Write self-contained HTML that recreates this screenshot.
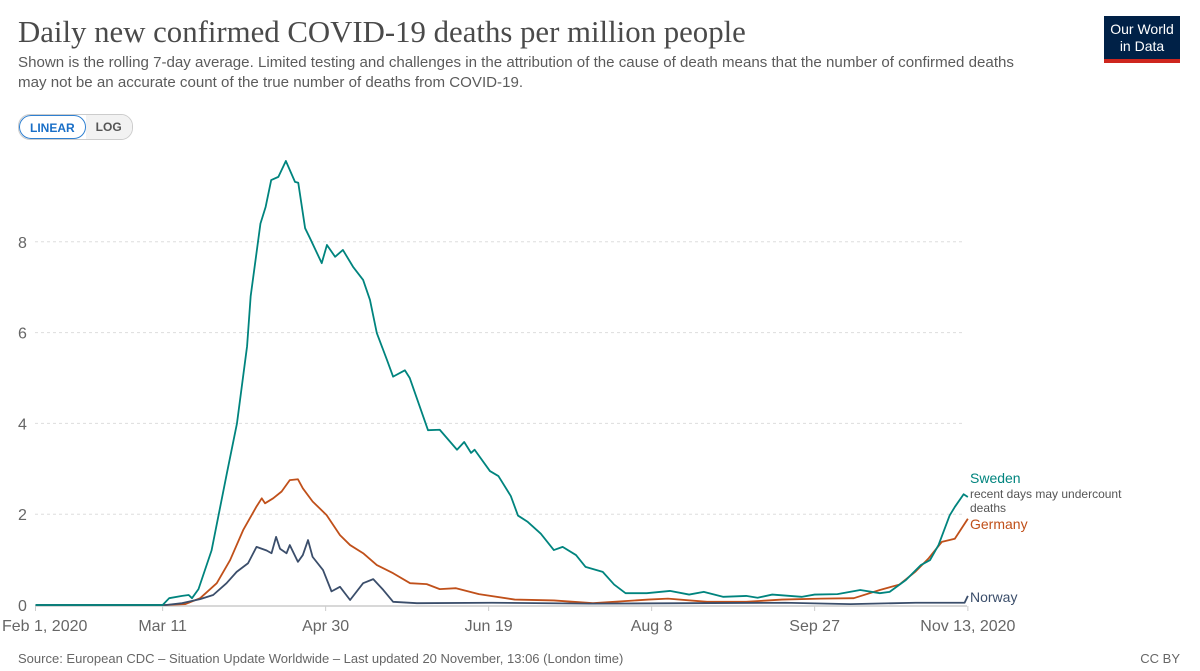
<!DOCTYPE html>
<html><head><meta charset="utf-8"><style>
body{margin:0;background:#fff;width:1200px;height:671px;overflow:hidden;font-family:"Liberation Sans",sans-serif;}
#title{position:absolute;left:18px;top:15px;font-family:"Liberation Serif",serif;font-size:30.8px;color:#4a4a4a;margin:0;font-weight:normal;}
#sub{position:absolute;left:18px;top:53px;width:1012px;font-size:15.1px;line-height:20px;color:#5b5b5b;}
#logo{position:absolute;left:1104px;top:16px;width:76px;height:47px;background:#002147;color:#fff;font-size:14px;line-height:17px;text-align:center;box-sizing:border-box;padding-top:5px;border-bottom:4px solid #ce261e;}
#toggle{position:absolute;left:18px;top:114px;height:24px;border:1px solid #ccc;border-radius:12px;display:flex;font-size:12px;font-weight:bold;overflow:hidden;}
#toggle div{padding:0 10px;line-height:24px;}
#lin{color:#1a6fc7;border:1px solid #2f80d1;border-radius:12px;background:#fff;}
#log{color:#555;background:#f2f2f2;}
#foot{position:absolute;left:18px;top:651px;font-size:13px;color:#666;}
#cc{position:absolute;right:20px;top:651px;font-size:13px;color:#666;}
svg{position:absolute;left:0;top:0;}
</style></head><body>
<h1 id="title">Daily new confirmed COVID-19 deaths per million people</h1>
<div id="sub">Shown is the rolling 7-day average. Limited testing and challenges in the attribution of the cause of death means that the number of confirmed deaths may not be an accurate count of the true number of deaths from COVID-19.</div>
<div id="logo">Our World<br>in Data</div>
<div id="toggle"><div id="lin">LINEAR</div><div id="log">LOG</div></div>
<svg id="chart" width="1200" height="671"></svg>
<div id="foot">Source: European CDC – Situation Update Worldwide – Last updated 20 November, 13:06 (London time)</div>
<div id="cc">CC BY</div>
<script>
const yTicks=[0,2,4,6,8];
const xTickDays=[0,39,89,139,189,239,286];
const xTickLabels=["Feb 1, 2020","Mar 11","Apr 30","Jun 19","Aug 8","Sep 27","Nov 13, 2020"];
const swedenDays=[0,39,41,45,47,48,50,54,58.7,61.8,64.9,66,69,70.6,72.3,74.5,76.8,79.6,80.6,82.7,84.2,87.8,89.4,91.9,94.3,97.4,100.5,102.6,104.7,107.8,109.7,113.3,114.8,120.4,124,129.3,131.5,133.6,134.7,139.4,142,145.8,148,151,155,159,161.7,165.8,168.7,174,177.5,181,187.5,194.6,200.5,205,211,218,221.5,226,235,239,246,253,259,262,267,271.6,274.4,277,280.4,282,284.7,286];
const swedenVals=[0,0,0.15,0.2,0.22,0.15,0.35,1.2,2.9,4.0,5.7,6.8,8.4,8.77,9.36,9.43,9.78,9.32,9.3,8.3,8.08,7.53,7.93,7.67,7.82,7.45,7.16,6.72,5.99,5.4,5.03,5.17,5.0,3.85,3.86,3.42,3.59,3.35,3.42,2.95,2.84,2.4,1.97,1.83,1.57,1.21,1.28,1.1,0.84,0.73,0.45,0.26,0.26,0.31,0.23,0.29,0.18,0.2,0.16,0.23,0.18,0.23,0.24,0.33,0.26,0.29,0.55,0.88,0.99,1.32,1.97,2.16,2.44,2.38];
const germanyDays=[0,40,46,50.5,55.6,59.7,63.7,67.8,69.4,70.4,72.9,75.5,78,80.5,82,85,89.3,93.4,96.5,100.5,104.7,109.7,114.9,120,124,129,136,147,159,171,188,194,206,218,229,241,251,259,265,270,274,278,282,286];
const germanyVals=[0,0,0.02,0.15,0.48,0.99,1.65,2.17,2.35,2.24,2.35,2.5,2.75,2.77,2.57,2.28,1.98,1.54,1.32,1.14,0.88,0.7,0.48,0.46,0.35,0.37,0.24,0.12,0.1,0.04,0.12,0.14,0.07,0.07,0.12,0.14,0.15,0.33,0.45,0.74,1.03,1.39,1.46,1.9];
const norwayDays=[0,40,45,50.5,54.5,58.6,61.7,65.2,67.8,70.9,72.4,73.8,75,77,78,80.5,82,83.6,85,88.2,90.8,93.4,96.5,100.5,103.6,106.7,109.7,117,140,170,200,230,250,270,285,286];
const norwayVals=[0,0,0.04,0.13,0.22,0.48,0.73,0.92,1.28,1.2,1.14,1.5,1.24,1.14,1.32,0.95,1.1,1.43,1.06,0.77,0.3,0.4,0.11,0.48,0.57,0.33,0.07,0.04,0.05,0.03,0.04,0.05,0.02,0.05,0.05,0.2];
const X0=35.5,PXD=3.26,Y0=605,PXU=45.4;
const xs=d=>X0+d*PXD, ys=v=>Y0-v*PXU;
const svg=document.getElementById('chart'),NS='http://www.w3.org/2000/svg';
function mk(t,a,txt){const e=document.createElementNS(NS,t);for(const k in a)e.setAttribute(k,a[k]);if(txt!=null)e.textContent=txt;svg.appendChild(e);return e;}
yTicks.forEach(v=>{
 if(v>0){const g=mk('line',{x1:35,x2:965,y1:ys(v),y2:ys(v),stroke:'#ddd','stroke-dasharray':'3,3'});
 
 }
 const t=mk('text',{x:18,y:ys(v)+6,'font-size':16,fill:'#666'},String(v));
 
 
});
const ax=mk('line',{x1:35,x2:967,y1:Y0+1,y2:Y0+1,stroke:'#ccc','stroke-width':1.5});


xTickDays.forEach((d,i)=>{
 const tk=mk('line',{x1:xs(d),x2:xs(d),y1:Y0+1,y2:Y0+6,stroke:'#ccc'});
 
 
 const t=mk('text',{x:i==0?2:xs(d),y:631,'font-size':16,fill:'#666','text-anchor':i==0?'start':'middle'},xTickLabels[i]);
 
 
});
function line(days,vals,col,name){
 const p=mk('polyline',{points:days.map((d,i)=>xs(d)+','+ys(vals[i])).join(' '),fill:'none',stroke:col,'stroke-width':1.8,'stroke-linejoin':'round'});
 
 
}
line(germanyDays,germanyVals,'#c0501a','germany-line');
line(norwayDays,norwayVals,'#3b4e6b','norway-line');
line(swedenDays,swedenVals,'#00847e','sweden-line');
function lab(txt,y,col,size,name){const t=mk('text',{x:970,y:y,'font-size':size,fill:col},txt);
 
 }
lab('Sweden',483,'#00847e',14,'legend-sweden');
lab('recent days may undercount',498,'#555',12,'legend-sweden-note');
lab('deaths',512,'#555',12,'legend-sweden-note-2');
lab('Germany',529,'#c0501a',14,'legend-germany');
lab('Norway',602,'#3b4e6b',14,'legend-norway');
</script>
</body></html>
